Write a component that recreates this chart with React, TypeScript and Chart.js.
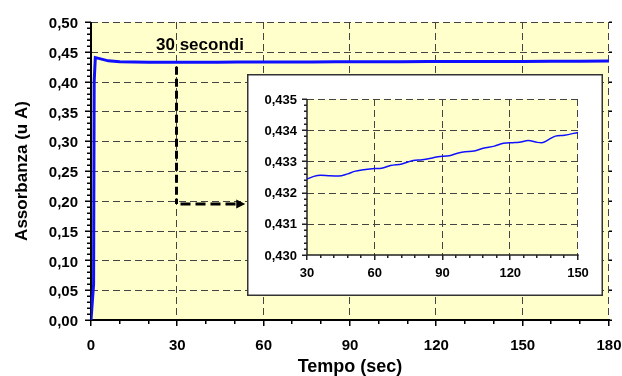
import React, { useEffect, useRef } from "react";
import { Chart, registerables } from "chart.js";

Chart.register(...registerables);

// ---------- data ----------
const mainTime = [0, 0.9, 1.1, 1.5, 3, 6, 10, 15, 20, 25, 30, 36, 44, 51, 60, 67, 77, 85, 93, 100, 108, 117, 124, 128, 132, 137, 144, 150, 160, 170, 180];
const mainAbs = [0, 0.06, 0.4, 0.4402, 0.4386, 0.4348, 0.4333, 0.4327, 0.4325, 0.4324, 0.43243, 0.43256, 0.43253, 0.43268, 0.43277, 0.43287, 0.43303, 0.4331, 0.43318, 0.43331, 0.43342, 0.43358, 0.43361, 0.43367, 0.43361, 0.4337, 0.43384, 0.43393, 0.4341, 0.4343, 0.4345];

const insetTime = [30, 33, 36, 40, 44, 48, 51, 55, 60, 63, 67, 72, 77, 81, 85, 88, 93, 97, 100, 104, 108, 113, 117, 121, 124, 128, 132, 134, 137, 140, 144, 150];
const insetAbs = [0.43243, 0.43252, 0.43256, 0.43254, 0.43253, 0.4326, 0.43268, 0.43273, 0.43277, 0.43278, 0.43287, 0.43292, 0.43303, 0.43305, 0.4331, 0.43315, 0.43318, 0.43327, 0.43331, 0.43333, 0.43342, 0.43349, 0.43358, 0.4336, 0.43361, 0.43367, 0.43361, 0.4336, 0.4337, 0.43381, 0.43384, 0.43393];

// axis ranges / ticks
const mainXRange = [0, 180];
const mainXStep = 30;
const mainXMinor = 10;
const mainYRange = [0, 0.5];
const mainYStep = 0.05;
const mainYMinor = 0.01;

const insetXRange = [30, 150];
const insetXStep = 30;
const insetXMinor = 6;
const insetYRange = [0.43, 0.435];
const insetYStep = 0.001;
const insetYMinor = 0.0002;

// annotation ("30 secondi" arrow)
const annotLabel = "30 secondi";
const annotLabelPos = [22.6, 0.4535];
const annotX = 30;
const annotYTop = 0.4318;
const annotYBottom = 0.195;
const annotArrowEndX = 53.6;

const xTitle = "Tempo (sec)";
const yTitle = "Assorbanza (u A)";

// ---------- styles ----------
const FONT = "'Liberation Sans', Arial, Helvetica, sans-serif";
const YELLOW = "#FFFFCC";
const BLUE = "#1010FF";
const GRID = "#444444";

type FrameOpts = {
  xRange: number[]; xStep: number; xMinor: number;
  yRange: number[]; yStep: number; yMinor: number;
  axisWidth: number; axisColor: string;
  majorLen: number; minorLen: number;
  rightTicks: boolean;
  border?: boolean;
};

function framePlugin(o: FrameOpts) {
  return {
    id: "frame",
    beforeDraw(chart: any) {
      const { ctx, chartArea: a } = chart;
      ctx.save();
      if (o.border) {
        ctx.fillStyle = "#ffffff";
        ctx.fillRect(0, 0, chart.width, chart.height);
      }
      ctx.fillStyle = YELLOW;
      ctx.fillRect(a.left, a.top, a.right - a.left, a.bottom - a.top);
      ctx.restore();
    },
    beforeDatasetsDraw(chart: any) {
      const { ctx, chartArea: a, scales } = chart;
      const x = scales.x, y = scales.y;
      ctx.save();
      ctx.strokeStyle = GRID;
      ctx.lineWidth = 1;
      ctx.setLineDash([7, 4]);
      const nx = Math.round((o.xRange[1] - o.xRange[0]) / o.xStep);
      for (let i = 1; i <= nx; i++) {
        const px = Math.round(x.getPixelForValue(o.xRange[0] + i * o.xStep)) - 0.5;
        ctx.beginPath(); ctx.moveTo(px, a.top); ctx.lineTo(px, a.bottom); ctx.stroke();
      }
      const ny = Math.round((o.yRange[1] - o.yRange[0]) / o.yStep);
      for (let i = 1; i <= ny; i++) {
        const py = Math.round(y.getPixelForValue(o.yRange[0] + i * o.yStep)) + 0.5;
        ctx.beginPath(); ctx.moveTo(a.left, py); ctx.lineTo(a.right, py); ctx.stroke();
      }
      ctx.setLineDash([]);
      ctx.strokeStyle = o.axisColor;
      // ticks y
      const nyMinor = Math.round((o.yRange[1] - o.yRange[0]) / o.yMinor);
      const perY = Math.round(o.yStep / o.yMinor);
      ctx.lineWidth = 1.5;
      for (let i = 0; i <= nyMinor; i++) {
        const py = Math.round(y.getPixelForValue(o.yRange[0] + i * o.yMinor)) + 0.25;
        const len = i % perY === 0 ? o.majorLen : o.minorLen;
        ctx.beginPath(); ctx.moveTo(a.left - len, py); ctx.lineTo(a.left, py); ctx.stroke();
        if (o.rightTicks && i % perY === 0) {
          ctx.beginPath(); ctx.moveTo(a.right, py); ctx.lineTo(a.right + 3, py); ctx.stroke();
        }
      }
      const nxMinor = Math.round((o.xRange[1] - o.xRange[0]) / o.xMinor);
      const perX = Math.round(o.xStep / o.xMinor);
      for (let i = 0; i <= nxMinor; i++) {
        const px = Math.round(x.getPixelForValue(o.xRange[0] + i * o.xMinor)) - 0.25;
        const len = i % perX === 0 ? o.majorLen : o.minorLen;
        ctx.beginPath(); ctx.moveTo(px, a.bottom); ctx.lineTo(px, a.bottom + len); ctx.stroke();
      }
      // axes
      ctx.lineWidth = o.axisWidth;
      ctx.beginPath();
      ctx.moveTo(Math.round(a.left), a.top);
      ctx.lineTo(Math.round(a.left), Math.round(a.bottom));
      ctx.lineTo(a.right + o.axisWidth / 2, Math.round(a.bottom));
      ctx.stroke();
      ctx.restore();
    },
    afterDraw(chart: any) {
      if (!o.border) return;
      const { ctx } = chart;
      ctx.save();
      ctx.strokeStyle = "#333333";
      ctx.lineWidth = 1.5;
      ctx.strokeRect(0.75, 0.75, chart.width - 1.5, chart.height - 1.5);
      ctx.restore();
    },
  };
}

const annotPlugin = {
  id: "annot",
  afterDatasetsDraw(chart: any) {
    const { ctx, scales } = chart;
    const x = scales.x, y = scales.y;
    ctx.save();
    ctx.fillStyle = "#000";
    ctx.font = `bold 17px ${FONT}`;
    ctx.textAlign = "left";
    ctx.textBaseline = "alphabetic";
    ctx.fillText(annotLabel, x.getPixelForValue(annotLabelPos[0]), y.getPixelForValue(annotLabelPos[1]));
    const ax = Math.round(x.getPixelForValue(annotX)) - 0.5;
    const yTop = y.getPixelForValue(annotYTop) + 4;
    const yBot = Math.round(y.getPixelForValue(annotYBottom));
    const xEnd = x.getPixelForValue(annotArrowEndX);
    ctx.strokeStyle = "#000";
    ctx.lineWidth = 3;
    ctx.setLineDash([8, 4]);
    ctx.beginPath(); ctx.moveTo(ax, yTop); ctx.lineTo(ax, yBot); ctx.stroke();
    ctx.setLineDash([10, 5]);
    ctx.beginPath(); ctx.moveTo(ax + 4, yBot); ctx.lineTo(xEnd - 8, yBot); ctx.stroke();
    ctx.setLineDash([]);
    ctx.beginPath();
    ctx.moveTo(xEnd, yBot);
    ctx.lineTo(xEnd - 9, yBot - 4.5);
    ctx.lineTo(xEnd - 9, yBot + 4.5);
    ctx.closePath();
    ctx.fill();
    ctx.restore();
  },
};

function comma(v: number, d: number) {
  return v.toFixed(d).replace(".", ",");
}

function noPad(s: any) {
  s.paddingLeft = 0;
  s.paddingRight = 0;
  s.paddingTop = 0;
  s.paddingBottom = 0;
}

export default function App() {
  const mainRef = useRef<HTMLCanvasElement | null>(null);
  const insetRef = useRef<HTMLCanvasElement | null>(null);

  useEffect(() => {
    Chart.defaults.font.family = FONT;
    Chart.defaults.color = "#000";

    const main = new Chart(mainRef.current as HTMLCanvasElement, {
      type: "line",
      data: {
        datasets: [
          {
            data: mainTime.map((t, i) => ({ x: t, y: mainAbs[i] })),
            borderColor: BLUE,
            borderWidth: 3,
            pointRadius: 0,
            tension: 0,
            fill: false,
          },
        ],
      },
      options: {
        responsive: false,
        devicePixelRatio: 1,
        animation: false,
        layout: { padding: { top: 22, right: 13, left: 0, bottom: 0 } },
        plugins: { legend: { display: false }, tooltip: { enabled: false } },
        scales: {
          x: {
            type: "linear",
            min: mainXRange[0],
            max: mainXRange[1],
            grid: { display: false, drawTicks: false },
            border: { display: false },
            ticks: {
              stepSize: mainXStep,
              autoSkip: false,
              maxRotation: 0,
              padding: 17,
              font: { size: 15, weight: "bold" },
              callback: (v: any) => String(v),
            },
            title: {
              display: true,
              text: xTitle,
              font: { size: 18, weight: "bold", lineHeight: 1 },
              padding: { top: 0, bottom: 0 },
            },
            afterFit: (s: any) => { s.height = 56; noPad(s); },
          },
          y: {
            type: "linear",
            min: mainYRange[0],
            max: mainYRange[1],
            grid: { display: false, drawTicks: false },
            border: { display: false },
            ticks: {
              stepSize: mainYStep,
              autoSkip: false,
              padding: 13,
              labelOffset: 2,
              font: { size: 15, weight: "bold" },
              callback: (v: any) => comma(Number(v), 2),
            },
            title: {
              display: true,
              text: yTitle,
              font: { size: 17, weight: "bold", lineHeight: 1 },
              padding: { top: 14, bottom: 0 },
            },
            afterFit: (s: any) => { s.width = 91; noPad(s); },
          },
        },
      },
      plugins: [
        framePlugin({
          xRange: mainXRange, xStep: mainXStep, xMinor: mainXMinor,
          yRange: mainYRange, yStep: mainYStep, yMinor: mainYMinor,
          axisWidth: 2, axisColor: "#000", majorLen: 6, minorLen: 4, rightTicks: true,
        }),
        annotPlugin,
      ],
    } as any);

    const inset = new Chart(insetRef.current as HTMLCanvasElement, {
      type: "line",
      data: {
        datasets: [
          {
            data: insetTime.map((t, i) => ({ x: t, y: insetAbs[i] })),
            borderColor: BLUE,
            borderWidth: 1.5,
            pointRadius: 0,
            cubicInterpolationMode: "monotone",
            fill: false,
          },
        ],
      },
      options: {
        responsive: false,
        devicePixelRatio: 1,
        animation: false,
        layout: { padding: { top: 25, right: 25, left: 0, bottom: 0 } },
        plugins: { legend: { display: false }, tooltip: { enabled: false } },
        scales: {
          x: {
            type: "linear",
            min: insetXRange[0],
            max: insetXRange[1],
            grid: { display: false, drawTicks: false },
            border: { display: false },
            ticks: {
              stepSize: insetXStep,
              autoSkip: false,
              maxRotation: 0,
              padding: 11,
              font: { size: 13, weight: "bold" },
              callback: (v: any) => String(v),
            },
            afterFit: (s: any) => { s.height = 41; noPad(s); },
          },
          y: {
            type: "linear",
            min: insetYRange[0],
            max: insetYRange[1],
            grid: { display: false, drawTicks: false },
            border: { display: false },
            ticks: {
              stepSize: insetYStep,
              autoSkip: false,
              padding: 10,
              labelOffset: 1,
              font: { size: 13, weight: "bold" },
              callback: (v: any) => comma(Number(v), 3),
            },
            afterFit: (s: any) => { s.width = 60; noPad(s); },
          },
        },
      },
      plugins: [
        framePlugin({
          xRange: insetXRange, xStep: insetXStep, xMinor: insetXMinor,
          yRange: insetYRange, yStep: insetYStep, yMinor: insetYMinor,
          axisWidth: 1.5, axisColor: "#222", majorLen: 5, minorLen: 3, rightTicks: false,
          border: true,
        }),
      ],
    } as any);

    return () => {
      main.destroy();
      inset.destroy();
    };
  }, []);

  return (
    <div style={{ position: "fixed", left: 0, top: 0, width: 622, height: 376, background: "#fff" }}>
      <canvas ref={mainRef} width={622} height={376} style={{ position: "absolute", left: 0, top: 0, width: 622, height: 376 }} />
      <canvas ref={insetRef} width={356} height={222} style={{ position: "absolute", left: 247, top: 74, width: 356, height: 222 }} />
    </div>
  );
}
